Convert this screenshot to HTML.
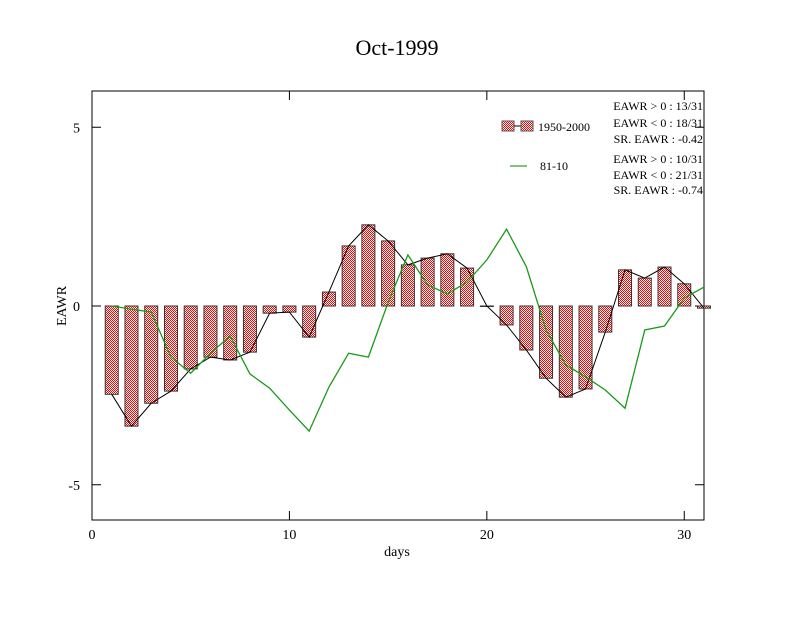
<!DOCTYPE html>
<html><head><meta charset="utf-8"><style>body{margin:0;background:#fff}text{font-family:"Liberation Serif",serif}</style></head>
<body>
<svg id="chart" width="792" height="612" xmlns="http://www.w3.org/2000/svg">
<defs><pattern id="chk" width="2" height="2" patternUnits="userSpaceOnUse"><rect width="2" height="2" fill="#fff"/><rect width="1" height="1" fill="#f00"/><rect x="1" y="1" width="1" height="1" fill="#f00"/></pattern></defs>
<text x="397" y="55" font-size="22" text-anchor="middle">Oct-1999</text>
<rect x="92" y="91" width="612" height="429" fill="none" stroke="#000"/>
<g id="axes"></g>
<g id="marks"></g>
<text x="397" y="556" font-size="14" text-anchor="middle">days</text>
<text transform="translate(66,306) rotate(-90)" font-size="14" text-anchor="middle">EAWR</text>
<g>
<rect x="502" y="121" width="12" height="10" fill="url(#chk)" stroke="#555"/><line x1="514" y1="126" x2="521" y2="126" stroke="#000"/><rect x="521" y="121" width="12" height="10" fill="url(#chk)" stroke="#555"/>
<text x="538" y="131" font-size="12">1950-2000</text>
<line x1="510" y1="166" x2="527" y2="166" stroke="#080"/>
<text x="540" y="170" font-size="12">81-10</text>
<g font-size="12" text-anchor="end">
<text x="703" y="110">EAWR &gt; 0 : 13/31</text><text x="703" y="127">EAWR &lt; 0 : 18/31</text><text x="703" y="143">SR. EAWR : -0.42</text>
<text x="703" y="163">EAWR &gt; 0 : 10/31</text><text x="703" y="179">EAWR &lt; 0 : 21/31</text><text x="703" y="194">SR. EAWR : -0.74</text>
</g></g>
</svg>
<script>
const days=[1,2,3,4,5,6,7,8,9,10,11,12,13,14,15,16,17,18,19,20,21,22,23,24,25,26,27,28,29,30,31];
const bars=[-2.47,-3.36,-2.72,-2.38,-1.76,-1.43,-1.51,-1.29,-0.2,-0.17,-0.87,0.39,1.68,2.27,1.82,1.15,1.34,1.46,1.06,0,-0.53,-1.23,-2.02,-2.55,-2.32,-0.73,1.01,0.78,1.09,0.62,-0.06];
const green=[0,-0.09,-0.17,-1.43,-1.88,-1.32,-0.84,-1.9,-2.3,-2.91,-3.5,-2.27,-1.32,-1.43,0.1,1.43,0.59,0.34,0.67,1.29,2.15,1.1,-0.67,-1.65,-1.98,-2.35,-2.86,-0.67,-0.56,0.22,0.53];
const xTicks=[0,10,20,30];
const yTicks=[-5,0,5];
const X=d=>92+d*(612/31), Y=v=>306-v*35.75;
const NS="http://www.w3.org/2000/svg";
function mk(t,a,p){const e=document.createElementNS(NS,t);for(const k in a)e.setAttribute(k,a[k]);p.appendChild(e);return e;}
const ax=document.getElementById('axes'),mg=document.getElementById('marks');
xTicks.forEach(t=>{mk('line',{x1:X(t),x2:X(t),y1:520,y2:511,stroke:'#000'},ax);mk('line',{x1:X(t),x2:X(t),y1:91,y2:100,stroke:'#000'},ax);
const tx=mk('text',{x:X(t),y:539,'font-size':14,'text-anchor':'middle'},ax);tx.textContent=t;

});
yTicks.forEach(t=>{mk('line',{x1:92,x2:101,y1:Y(t),y2:Y(t),stroke:'#000'},ax);mk('line',{x1:704,x2:695,y1:Y(t),y2:Y(t),stroke:'#000'},ax);
const tx=mk('text',{x:80,y:Y(t)+5,'font-size':14,'text-anchor':'end'},ax);tx.textContent=t;

});
days.forEach((d,i)=>{const v=bars[i];const y=Math.min(Y(v),Y(0)),h=Math.abs(Y(v)-Y(0));
const r=mk('rect',{x:X(d)-6.5,y:y,width:13,height:Math.max(h,0.5),fill:'url(#chk)',stroke:'#333'},mg);

});
const bl=mk('polyline',{points:days.map((d,i)=>X(d)+','+Y(bars[i])).join(' '),fill:'none',stroke:'#000'},mg);


const gl=mk('polyline',{points:days.map((d,i)=>X(d)+','+Y(green[i])).join(' '),fill:'none',stroke:'#1a9a1a','stroke-width':1.3},mg);


</script>
</body></html>
